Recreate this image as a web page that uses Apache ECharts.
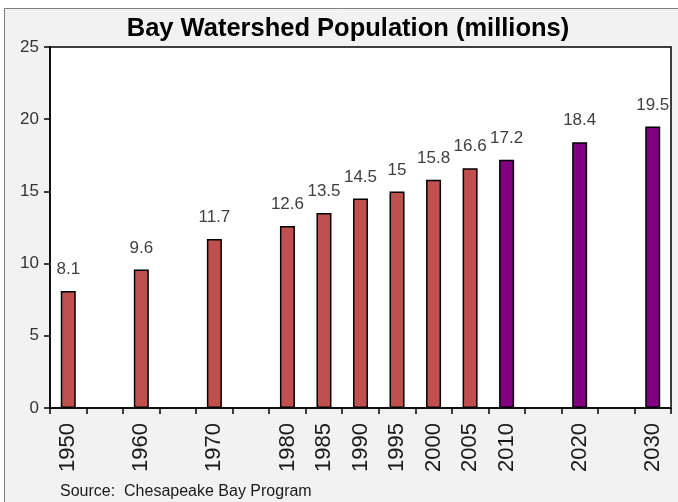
<!DOCTYPE html>
<html>
<head>
<meta charset="utf-8">
<script src="https://cdn.jsdelivr.net/npm/echarts@6/dist/echarts.min.js"></script>
<style>
  html, body { margin: 0; padding: 0; background: #ffffff; }
  #chart { width: 678px; height: 502px; }
</style>
</head>
<body>
<div id="chart"></div>
<script>
// Five-year slots along the x axis; only some of them carry a value.
var yearSlots = ['1950', '1955', '1960', '1965', '1970', '1975', '1980', '1985', '1990',
                 '1995', '2000', '2005', '2010', '2015', '2020', '2025', '2030'];

// Population in millions for the years that have a figure.
var years      = ['1950', '1960', '1970', '1980', '1985', '1990', '1995', '2000', '2005', '2010', '2020', '2030'];
var population = [8.1, 9.6, 11.7, 12.6, 13.5, 14.5, 15, 15.8, 16.6, 17.2, 18.4, 19.5];

// First year drawn in the projection colour.
var projectionStart = '2010';

var yTicks = [0, 5, 10, 15, 20, 25];

var HIST_COLOR = '#C0504D';
var PROJ_COLOR = '#800080';
var FONT = '"Liberation Sans", Arial, sans-serif';

var seriesData = yearSlots.map(function (y) {
  var i = years.indexOf(y);
  if (i < 0) return '-';
  return {
    value: population[i],
    itemStyle: { color: Number(y) >= Number(projectionStart) ? PROJ_COLOR : HIST_COLOR }
  };
});

var chart = echarts.init(document.getElementById('chart'), null, { renderer: 'canvas' });

chart.setOption({
  animation: false,
  backgroundColor: '#ffffff',
  graphic: [
    {
      type: 'rect', z: -10, silent: true,
      shape: { x: 4.5, y: 8.5, width: 720, height: 600 },
      style: { fill: '#f2f2f2', stroke: '#7f7f7f', lineWidth: 1 }
    },
    {
      type: 'text', z: 10,
      x: 348, y: 16,
      style: {
        text: 'Bay Watershed Population (millions)',
        font: 'bold 25.5px ' + FONT,
        fill: '#000000',
        textAlign: 'center',
        textVerticalAlign: 'top'
      }
    },
    {
      type: 'text', z: 10,
      x: 60, y: 484,
      style: {
        text: 'Source:  Chesapeake Bay Program',
        font: '16px ' + FONT,
        fill: '#1a1a1a',
        textAlign: 'left',
        textVerticalAlign: 'top'
      }
    }
  ],
  grid: {
    left: 50, right: 7, top: 47, bottom: 94,
    show: true,
    backgroundColor: '#ffffff',
    borderColor: '#000000',
    borderWidth: 1.5
  },
  xAxis: {
    type: 'category',
    data: yearSlots,
    boundaryGap: true,
    axisLine: { lineStyle: { color: '#000000', width: 1.5 } },
    axisTick: { show: true, alignWithLabel: false, length: 6, interval: 0,
                lineStyle: { color: '#000000', width: 1.5 } },
    axisLabel: {
      interval: 0,
      rotate: 90,
      margin: 15,
      fontSize: 22,
      fontFamily: FONT,
      color: '#1a1a1a',
      formatter: function (v) { return years.indexOf(v) >= 0 ? v : ''; }
    },
    splitLine: { show: false }
  },
  yAxis: {
    type: 'value',
    min: yTicks[0],
    max: yTicks[yTicks.length - 1],
    interval: yTicks[1] - yTicks[0],
    axisLine: { show: true, lineStyle: { color: '#000000', width: 1.5 } },
    axisTick: { show: true, length: 6, lineStyle: { color: '#000000', width: 1.5 } },
    axisLabel: { fontSize: 17, fontFamily: FONT, color: '#333333', margin: 11 },
    splitLine: { show: false }
  },
  series: [{
    type: 'bar',
    data: seriesData,
    barWidth: 15,
    itemStyle: { borderColor: '#000000', borderWidth: 1.5 },
    label: {
      show: true,
      position: 'top',
      distance: 13,
      fontSize: 17,
      fontFamily: FONT,
      color: '#404040',
      formatter: function (p) { return String(p.value); }
    }
  }]
});
</script>
</body>
</html>
